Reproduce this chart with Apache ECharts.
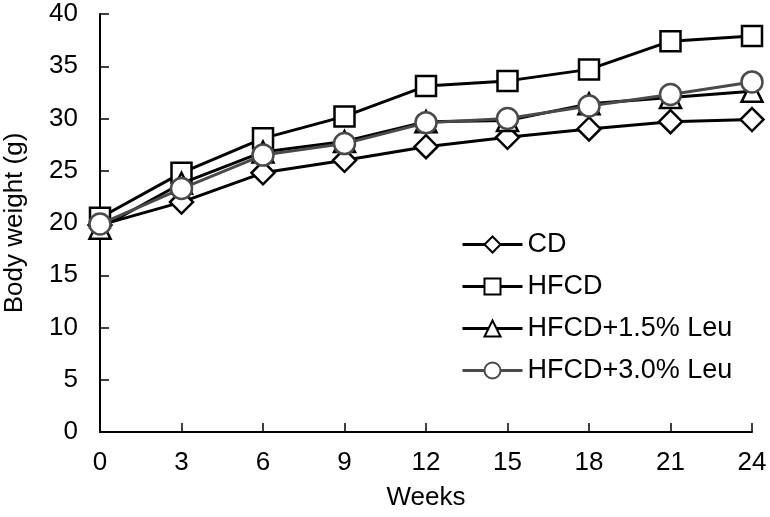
<!DOCTYPE html>
<html><head><meta charset="utf-8">
<script src="https://cdn.jsdelivr.net/npm/echarts@6/dist/echarts.min.js"></script>
<style>html,body{margin:0;padding:0;background:#fff}#c{width:770px;height:517px}</style>
</head><body><div id="c"></div>
<script>
const weeks = [0, 3, 6, 9, 12, 15, 18, 21, 24];
const seriesNames = ['CD', 'HFCD', 'HFCD+1.5% Leu', 'HFCD+3.0% Leu'];
const cd = [19.8, 22.0, 24.8, 26.0, 27.3, 28.2, 29.0, 29.7, 29.9];
const hfcd = [20.5, 24.8, 28.1, 30.2, 33.1, 33.6, 34.7, 37.4, 37.9];
const leu15 = [19.5, 23.8, 26.8, 27.8, 29.7, 29.8, 31.4, 32.0, 32.6];
const leu30 = [19.9, 23.3, 26.5, 27.6, 29.6, 30.0, 31.2, 32.3, 33.5];
const values = [cd, hfcd, leu15, leu30];
const symbols = ['diamond', 'rect', 'triangle', 'circle'];
const sizes = [23, 20, 21, 21];
const colors = ['#000', '#000', '#000', '#4a4a4a'];

const font = '"Liberation Sans", Arial, Helvetica, sans-serif';
const chart = echarts.init(document.getElementById('c'));
chart.setOption({
  animation: false,
  backgroundColor: '#fff',
  grid: { left: 100, right: 18, top: 14, bottom: 85, outerBoundsMode: 'none', containLabel: false },
  legend: {
    orient: 'vertical',
    left: 456, top: 226,
    itemWidth: 60, itemHeight: 20, itemGap: 15,
    lineStyle: { width: 3 },
    textStyle: { fontFamily: font, fontSize: 27, color: '#000' },
    data: seriesNames
  },
  xAxis: {
    type: 'value', min: 0, max: 24, interval: 3,
    name: 'Weeks', nameLocation: 'middle', nameGap: 53,
    nameTextStyle: { fontFamily: font, fontSize: 26, color: '#000' },
    axisLine: { lineStyle: { color: '#000', width: 2 } },
    axisTick: { inside: true, length: 9, lineStyle: { color: '#000', width: 1.5 } },
    axisLabel: { fontFamily: font, fontSize: 26, color: '#000', margin: 18 },
    splitLine: { show: false }
  },
  yAxis: {
    type: 'value', min: 0, max: 40, interval: 5,
    name: 'Body weight (g)', nameLocation: 'middle', nameGap: 72,
    nameTextStyle: { fontFamily: font, fontSize: 26, color: '#000' },
    axisLine: { show: true, lineStyle: { color: '#000', width: 2 } },
    axisTick: { show: true, inside: true, length: 9, lineStyle: { color: '#000', width: 1.5 } },
    axisLabel: { fontFamily: font, fontSize: 26, color: '#000', margin: 22 },
    splitLine: { show: false }
  },
  series: seriesNames.map((n, i) => ({
    name: n, type: 'line',
    data: weeks.map((w, j) => [w, values[i][j]]),
    symbol: symbols[i], symbolSize: sizes[i],
    lineStyle: { color: colors[i], width: 3 },
    itemStyle: { color: '#fff', borderColor: colors[i], borderWidth: 2.5 },
    z: 2 + i
  }))
});
</script></body></html>
